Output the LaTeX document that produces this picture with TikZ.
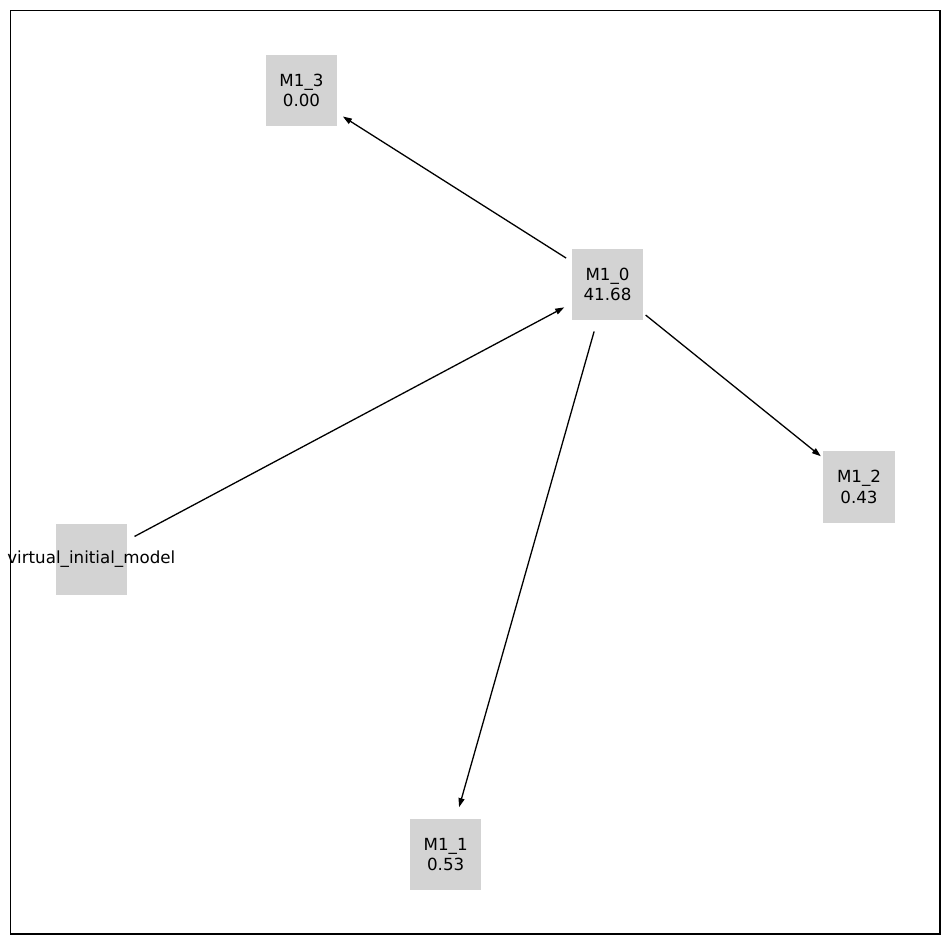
\documentclass[tikz,border=0pt]{standalone}
\usepackage{fontspec}
\setmainfont{DejaVu Sans}
\usetikzlibrary{arrows.meta}
\definecolor{nodegray}{HTML}{D3D3D3}
\begin{document}
\begin{tikzpicture}[x=1pt,y=-1pt,
  box/.style={fill=nodegray,inner sep=0pt,minimum size=71.5pt,draw=none},
  lbl/.style={align=center,inner sep=0pt,font=\fontsize{16.7}{20.5}\selectfont,text=black},
  edge/.style={line width=1.3pt,-{Triangle[length=9pt,width=6pt]},shorten <=49pt,shorten >=49pt}]
\useasboundingbox (0,0) rectangle (950,944);
\draw[line width=1.1pt] (10.5,10.5) rectangle (940,934);
\node[box,label={[lbl]center:M1\_3\\0.00}] (m3) at (301.5,90.3) {};
\node[box,label={[lbl]center:M1\_0\\41.68}] (m0) at (607.5,284.3) {};
\node[box,label={[lbl]center:M1\_2\\0.43}] (m2) at (859,487) {};
\node[box,label={[lbl]center:virtual\_initial\_model}] (v) at (91.3,559.5) {};
\node[box,label={[lbl]center:M1\_1\\0.53}] (m1) at (445.7,854.3) {};
\draw[edge] (m0.center) -- (m3.center);
\draw[edge] (m0.center) -- (m2.center);
\draw[edge] (v.center) -- (m0.center);
\draw[edge] (m0.center) -- (m1.center);
\end{tikzpicture}
\end{document}
